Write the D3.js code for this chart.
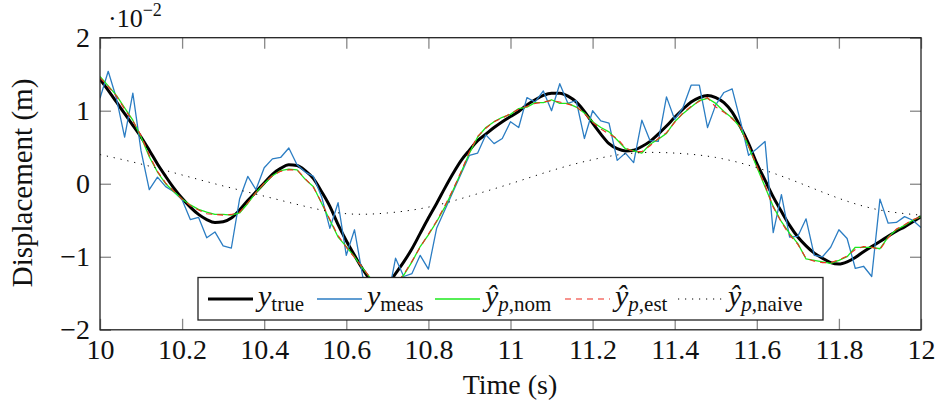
<!DOCTYPE html>
<html>
<head>
<meta charset="utf-8">
<script src="https://cdn.jsdelivr.net/npm/d3@7"></script>
<style>
  body { margin: 0; background: #fff; }
  svg { display: block; font-family: "Liberation Serif", "DejaVu Serif", serif; }
</style>
</head>
<body>
<svg></svg>
<script>
// displacement in units of 1e-2 m, sampled every 0.02 s from 10 to 12 s
const yTrue = [1.43, 1.28, 1.12, 0.96, 0.80, 0.64, 0.46, 0.27, 0.10, -0.06,
  -0.20, -0.32, -0.42, -0.49, -0.53, -0.52, -0.47, -0.36, -0.23, -0.11,
  0.01, 0.13, 0.21, 0.26, 0.25, 0.18, 0.07, -0.11, -0.31, -0.56,
  -0.78, -0.98, -1.17, -1.33, -1.42, -1.38, -1.23, -1.07, -0.89, -0.68,
  -0.47, -0.27, -0.06, 0.14, 0.32, 0.46, 0.59, 0.68, 0.77, 0.85,
  0.92, 0.99, 1.08, 1.15, 1.21, 1.24, 1.24, 1.20, 1.12, 0.99,
  0.83, 0.68, 0.55, 0.48, 0.45, 0.46, 0.51, 0.58, 0.68, 0.79,
  0.91, 1.02, 1.12, 1.18, 1.21, 1.18, 1.11, 0.98, 0.78, 0.55,
  0.28, 0.05, -0.18, -0.38, -0.57, -0.73, -0.85, -0.95, -1.02, -1.08,
  -1.10, -1.07, -1.01, -0.93, -0.86, -0.79, -0.72, -0.65, -0.59, -0.52,
  -0.45]

const yMeas = [1.17, 1.54, 1.17, 0.64, 1.24, 0.45, -0.08, 0.09, -0.04, -0.11,
  -0.22, -0.49, -0.46, -0.74, -0.66, -0.85, -0.88, -0.21, 0.10, -0.08,
  0.22, 0.34, 0.36, 0.49, 0.26, 0.16, 0.10, -0.18, -0.61, -0.26,
  -0.98, -0.63, -1.27, -1.55, -1.75, -1.60, -1.02, -1.27, -1.23, -0.98,
  -1.17, -0.61, -0.36, -0.11, 0.14, 0.39, 0.42, 0.67, 0.55, 0.62,
  0.85, 0.77, 1.18, 1.12, 1.27, 1.00, 1.37, 1.10, 1.14, 0.62,
  1.00, 0.86, 0.83, 0.32, 0.42, 0.29, 0.87, 0.59, 0.58, 1.19,
  0.88, 1.04, 1.35, 1.35, 0.77, 1.08, 1.25, 1.30, 0.86, 0.39,
  0.48, 0.58, -0.67, -0.15, -0.73, -0.72, -0.48, -0.98, -1.00, -0.87,
  -0.63, -0.75, -1.16, -1.13, -1.27, -0.21, -0.54, -0.53, -0.45, -0.50,
  -0.60]

const yNom = [1.47, 1.34, 1.21, 1.04, 0.87, 0.64, 0.37, 0.16, 0.00, -0.11,
  -0.21, -0.29, -0.35, -0.39, -0.42, -0.42, -0.43, -0.40, -0.27, -0.12,
  0.00, 0.11, 0.18, 0.20, 0.19, 0.06, -0.04, -0.27, -0.50, -0.73,
  -0.86, -1.00, -1.16, -1.30, -1.40, -1.45, -1.38, -1.25, -1.07, -0.86,
  -0.70, -0.52, -0.32, -0.09, 0.16, 0.42, 0.64, 0.77, 0.85, 0.91,
  0.95, 1.03, 1.05, 1.11, 1.11, 1.15, 1.10, 1.10, 1.05, 0.97,
  0.85, 0.77, 0.71, 0.60, 0.48, 0.45, 0.42, 0.54, 0.61, 0.69,
  0.85, 0.96, 1.05, 1.14, 1.17, 1.10, 0.99, 0.90, 0.77, 0.51,
  0.23, -0.04, -0.31, -0.52, -0.68, -0.82, -1.03, -1.05, -1.07, -1.09,
  -1.05, -1.00, -0.87, -0.87, -0.87, -0.89, -0.73, -0.63, -0.57, -0.50,
  -0.45]

const yEst = [1.45, 1.33, 1.20, 1.02, 0.86, 0.66, 0.39, 0.17, 0.01, -0.10,
  -0.21, -0.30, -0.36, -0.41, -0.42, -0.43, -0.42, -0.39, -0.26, -0.12,
  0.01, 0.11, 0.17, 0.19, 0.19, 0.07, -0.05, -0.26, -0.49, -0.71,
  -0.87, -1.01, -1.15, -1.30, -1.41, -1.44, -1.37, -1.24, -1.06, -0.87,
  -0.69, -0.51, -0.30, -0.08, 0.17, 0.44, 0.65, 0.76, 0.85, 0.90,
  0.96, 1.02, 1.06, 1.10, 1.12, 1.14, 1.12, 1.09, 1.06, 0.96,
  0.84, 0.75, 0.68, 0.62, 0.49, 0.44, 0.44, 0.52, 0.62, 0.70,
  0.84, 0.97, 1.06, 1.13, 1.18, 1.05, 0.98, 0.89, 0.78, 0.52,
  0.25, -0.02, -0.32, -0.53, -0.70, -0.83, -1.02, -1.06, -1.08, -1.08,
  -1.04, -0.99, -0.90, -0.86, -0.87, -0.90, -0.74, -0.62, -0.56, -0.49,
  -0.45]

// naive prediction, every 0.1 s
const yNaive = [0.40, 0.27, 0.12, -0.03, -0.17, -0.31, -0.41, -0.40, -0.32, -0.17,
  0.00, 0.18, 0.33, 0.42, 0.42, 0.36, 0.22, 0.02, -0.20, -0.36, -0.43]

const tStart = 10
const dtMeas = 0.02
const dtNaive = 0.1

const xTicks = [10, 10.2, 10.4, 10.6, 10.8, 11, 11.2, 11.4, 11.6, 11.8, 12]
const yTicks = [-2, -1, 0, 1, 2]

const series = [
  { name: "true", values: yTrue, dt: dtMeas, color: "#000", width: 3, dash: null },
  { name: "meas", values: yMeas, dt: dtMeas, color: "#2b7dc3", width: 1.3, dash: null },
  { name: "nom", values: yNom, dt: dtMeas, color: "#1ee81e", width: 1.3, dash: null },
  { name: "est", values: yEst, dt: dtMeas, color: "#f0281e", width: 1.1, dash: "6,5" },
  { name: "naive", values: yNaive, dt: dtNaive, color: "#000", width: 1, dash: "1.2,5.8" }
]

const W = 937, H = 408
const mLeft = 100, mRight = 921, mTop = 37.7, mBottom = 329.8

const svg = d3.select("svg").attr("width", W).attr("height", H)

const x = d3.scaleLinear().domain([10, 12]).range([mLeft, mRight])
const y = d3.scaleLinear().domain([-2, 2]).range([mBottom, mTop])

svg.append("clipPath").attr("id", "clip")
  .append("rect")
  .attr("x", mLeft).attr("y", mTop)
  .attr("width", mRight - mLeft).attr("height", mBottom - mTop)

// ticks (inward on all four sides)
const tickLen = 11
function styleAxis(g) {
  g.select(".domain").remove()
  g.selectAll(".tick line").attr("stroke", "#888").attr("stroke-width", 1.3)
  g.selectAll(".tick text").attr("fill", "#111").style("font-size", "28px")
    .style("font-family", "Liberation Serif, serif")
}

svg.append("g")
  .attr("transform", "translate(0," + mBottom + ")")
  .call(d3.axisBottom(x).tickValues(xTicks).tickSizeInner(-tickLen).tickSizeOuter(0)
    .tickPadding(9).tickFormat(d3.format("~g")))
  .call(styleAxis)

svg.append("g")
  .attr("transform", "translate(0," + mTop + ")")
  .call(d3.axisTop(x).tickValues(xTicks).tickSizeInner(-tickLen).tickSizeOuter(0).tickFormat(""))
  .call(styleAxis)

svg.append("g")
  .attr("transform", "translate(" + mLeft + ",0)")
  .call(d3.axisLeft(y).tickValues(yTicks).tickSizeInner(-tickLen).tickSizeOuter(0)
    .tickPadding(10).tickFormat(d3.format("~g")))
  .call(styleAxis)

svg.append("g")
  .attr("transform", "translate(" + mRight + ",0)")
  .call(d3.axisRight(y).tickValues(yTicks).tickSizeInner(-tickLen).tickSizeOuter(0).tickFormat(""))
  .call(styleAxis)

// data lines
const plot = svg.append("g").attr("clip-path", "url(#clip)")

series.forEach(s => {
  const line = d3.line()
    .x((d, i) => x(tStart + i * s.dt))
    .y(d => y(d))
    .curve(s.name === "true" ? d3.curveMonotoneX : s.name === "naive" ? d3.curveNatural : d3.curveLinear)
  plot.append("path")
    .datum(s.values)
    .attr("d", line)
    .attr("fill", "none")
    .attr("stroke", s.color)
    .attr("stroke-width", s.width)
    .attr("stroke-linejoin", "round")
    .attr("stroke-dasharray", s.dash)
})

// frame
svg.append("rect")
  .attr("x", mLeft).attr("y", mTop)
  .attr("width", mRight - mLeft).attr("height", mBottom - mTop)
  .attr("fill", "none").attr("stroke", "#222").attr("stroke-width", 1.3)

// exponent label
const expo = svg.append("text").attr("x", 108).attr("y", 27)
  .attr("fill", "#111").style("font-size", "26px")
expo.append("tspan").text("·10")
expo.append("tspan").attr("dy", -11).style("font-size", "18px").text("−2")

// axis titles
svg.append("text")
  .attr("x", 510).attr("y", 394)
  .attr("text-anchor", "middle")
  .attr("fill", "#111").style("font-size", "28px")
  .text("Time (s)")

svg.append("text")
  .attr("transform", "translate(32,183) rotate(-90)")
  .attr("text-anchor", "middle")
  .attr("fill", "#111").style("font-size", "29px")
  .text("Displacement (m)")

// legend
const legend = svg.append("g")
legend.append("rect")
  .attr("x", 198).attr("y", 277.5)
  .attr("width", 625).attr("height", 42.5)
  .attr("fill", "#fff").attr("stroke", "#222").attr("stroke-width", 1.3)

const labels = [
  { hat: false, sub: [["true", false]] },
  { hat: false, sub: [["meas", false]] },
  { hat: true, sub: [["p", true], [",nom", false]] },
  { hat: true, sub: [["p", true], [",est", false]] },
  { hat: true, sub: [["p", true], [",naive", false]] }
]
const legSampleX = [208, 317, 435, 565, 678]

const lineY = 299, textY = 306
series.forEach((s, i) => {
  const lx = legSampleX[i]
  legend.append("line")
    .attr("x1", lx).attr("x2", lx + 45)
    .attr("y1", lineY).attr("y2", lineY)
    .attr("stroke", s.color)
    .attr("stroke-width", s.width)
    .attr("stroke-dasharray", s.dash)
  const t = legend.append("text")
    .attr("x", lx + 50).attr("y", textY)
    .attr("fill", "#111").style("font-size", "30px")
  t.append("tspan").style("font-style", "italic").text(labels[i].hat ? "ŷ" : "y")
  labels[i].sub.forEach((p, j) => {
    const ts = t.append("tspan").style("font-size", "21px").text(p[0])
    if (p[1]) ts.style("font-style", "italic")
    if (j === 0) ts.attr("dy", 5)
  })
})
</script>
</body>
</html>
